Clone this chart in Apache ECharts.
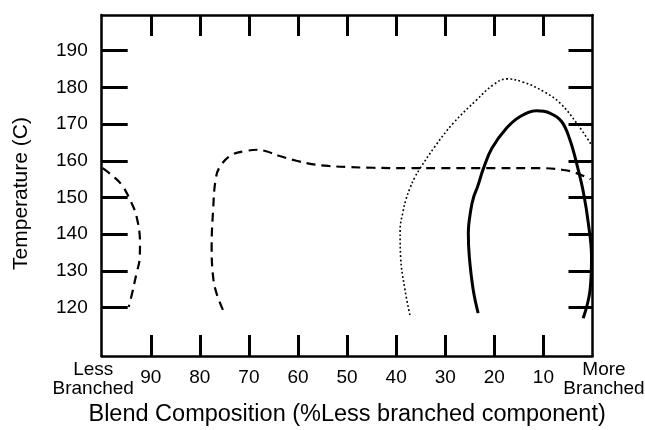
<!DOCTYPE html>
<html>
<head>
<meta charset="utf-8">
<script src="https://cdn.jsdelivr.net/npm/echarts@6/dist/echarts.min.js"></script>
<style>html,body{margin:0;padding:0;background:#fff}#c{width:645px;height:430px}</style>
</head>
<body>
<div id="c"></div>
<script>
// x = blend composition (% less branched component), T = temperature (C)
var xTicks = [90, 80, 70, 60, 50, 40, 30, 20, 10];
var yTicks = [120, 130, 140, 150, 160, 170, 180, 190];
var endLabels = {100: 'Less\nBranched', 0: 'More\nBranched'};
var xTitle = 'Blend Composition (%Less branched component)';
var yTitle = 'Temperature (C)';

// left dashed boundary
var dashLeftX = [99.8, 97.5, 95.9, 94.2, 92.9, 92.2, 92.3, 92.9, 93.8, 94.5];
var dashLeftT = [158, 155.6, 153.4, 149.3, 144.8, 137.5, 133, 129.4, 123.9, 120.2];
// main dashed boundary
var dashMainX = [75.3, 76.6, 77.3, 77.6, 77.3, 76.8, 75.9, 73.5, 70.5, 68.3, 66.5, 63.7, 60.3, 57.2, 53.8, 50.1, 44.7, 37.9, 31.1, 20, 10.7, 5.9, 3.6, 0.4];
var dashMainT = [119.4, 123.9, 128.4, 136.6, 146.6, 154.8, 158.4, 161.6, 162.7, 163, 162.6, 161.3, 160, 159.1, 158.6, 158.3, 158.1, 158, 158, 158, 158, 157.5, 156.8, 155];
// dotted boundary
var dotX = [37.2, 38.2, 39.1, 39.2, 38.6, 38, 37.2, 36.2, 35.1, 32.1, 28.4, 23.6, 20.2, 17.5, 14.1, 10, 6.6, 3.2, 0.2];
var dotT = [118, 124.8, 133.9, 141.2, 146.2, 149.5, 152.5, 155.5, 158, 163.9, 170.2, 176.6, 180.7, 182.3, 181.4, 178.9, 175.7, 170.2, 164.3];
// solid boundary
var solidX = [23.3, 24.3, 25.1, 25.3, 24.8, 24.2, 23.4, 22.2, 20.5, 17.5, 14.8, 11.4, 8.7, 6.3, 4.6, 2.9, 1.8, 0.85, 0.2, 0.5, 1.9];
var solidT = [118.5, 124.8, 133.9, 140.3, 146.6, 150.2, 153, 158, 163.4, 168.9, 172, 173.6, 173, 170.7, 165.7, 157.5, 151, 143, 133.9, 124.8, 117.1];

function pairs(xs, ys) { return xs.map(function (x, i) { return [x, ys[i]]; }); }

var FONT = '"Liberation Sans", Arial, Helvetica, sans-serif';
var axisLine = {show: true, onZero: false, lineStyle: {color: '#000', width: 2.5}};
var Y_MIN = 106.84, Y_MAX = 199.7;

var chart = echarts.init(document.getElementById('c'), null, {renderer: 'canvas'});
chart.setOption({
  animation: false,
  backgroundColor: '#fff',
  textStyle: {fontFamily: FONT, color: '#000'},
  grid: {left: 101.7, right: 52.5, top: 15, bottom: 74, containLabel: false, outerBoundsMode: 'none'},
  xAxis: [
    {
      type: 'value', position: 'bottom', inverse: true, min: 0, max: 100,
      axisLine: axisLine,
      splitLine: {show: false},
      axisTick: {show: true, inside: true, length: 21, customValues: xTicks, lineStyle: {color: '#000', width: 3}},
      axisLabel: {show: true, customValues: xTicks, margin: 12, fontSize: 19, color: '#000', fontFamily: FONT},
      name: xTitle, nameLocation: 'middle', nameGap: 47,
      nameTextStyle: {fontSize: 23.5, color: '#000', fontFamily: FONT}
    },
    {
      type: 'value', position: 'top', inverse: true, min: 0, max: 100,
      axisLine: axisLine,
      splitLine: {show: false},
      axisTick: {show: true, inside: true, length: 21, customValues: xTicks, lineStyle: {color: '#000', width: 3}},
      axisLabel: {show: false}
    },
    {
      type: 'value', position: 'bottom', inverse: true, min: 0, max: 100,
      axisLine: {show: false, onZero: false}, axisTick: {show: false}, splitLine: {show: false},
      axisLabel: {
        show: true, customValues: [100, 0], margin: 4, color: '#000', fontFamily: FONT,
        fontSize: 19, lineHeight: 19,
        formatter: function (v) {
          var parts = endLabels[v].split('\n');
          var tag = v === 100 ? 'l' : 'r';
          return parts.map(function (p) { return '{' + tag + '|' + p + '}'; }).join('\n');
        },
        rich: {
          l: {fontSize: 19, lineHeight: 19, padding: [0, 17, 0, 0], color: '#000', fontFamily: FONT},
          r: {fontSize: 19, lineHeight: 19, padding: [0, 0, 0, 23], color: '#000', fontFamily: FONT}
        }
      }
    }
  ],
  yAxis: [
    {
      type: 'value', position: 'left', min: Y_MIN, max: Y_MAX,
      axisLine: axisLine,
      splitLine: {show: false},
      axisTick: {show: true, inside: true, length: 26, customValues: yTicks, lineStyle: {color: '#000', width: 3}},
      axisLabel: {show: true, customValues: yTicks, margin: 14, fontSize: 19, color: '#000', fontFamily: FONT},
      name: yTitle, nameLocation: 'middle', nameRotate: 90, nameGap: 70,
      nameTextStyle: {fontSize: 21, color: '#000', fontFamily: FONT, padding: [0, 16, 0, 0]}
    },
    {
      type: 'value', position: 'right', min: Y_MIN, max: Y_MAX,
      axisLine: axisLine,
      splitLine: {show: false},
      axisTick: {show: true, inside: true, length: 24, customValues: yTicks, lineStyle: {color: '#000', width: 3}},
      axisLabel: {show: false}
    }
  ],
  series: [
    {type: 'line', xAxisIndex: 0, yAxisIndex: 0, data: pairs(dashLeftX, dashLeftT), smooth: 0.4, symbol: 'none',
     lineStyle: {color: '#000', width: 2.2, type: [9, 6]}},
    {type: 'line', xAxisIndex: 0, yAxisIndex: 0, data: pairs(dashMainX, dashMainT), smooth: 0.4, symbol: 'none',
     lineStyle: {color: '#000', width: 2.2, type: [9, 6]}},
    {type: 'line', xAxisIndex: 0, yAxisIndex: 0, data: pairs(dotX, dotT), smooth: 0.4, symbol: 'none',
     lineStyle: {color: '#000', width: 1.6, type: [1.8, 2.4]}},
    {type: 'line', xAxisIndex: 0, yAxisIndex: 0, data: pairs(solidX, solidT), smooth: 0.4, symbol: 'none',
     lineStyle: {color: '#000', width: 3}}
  ]
});
</script>
</body>
</html>
